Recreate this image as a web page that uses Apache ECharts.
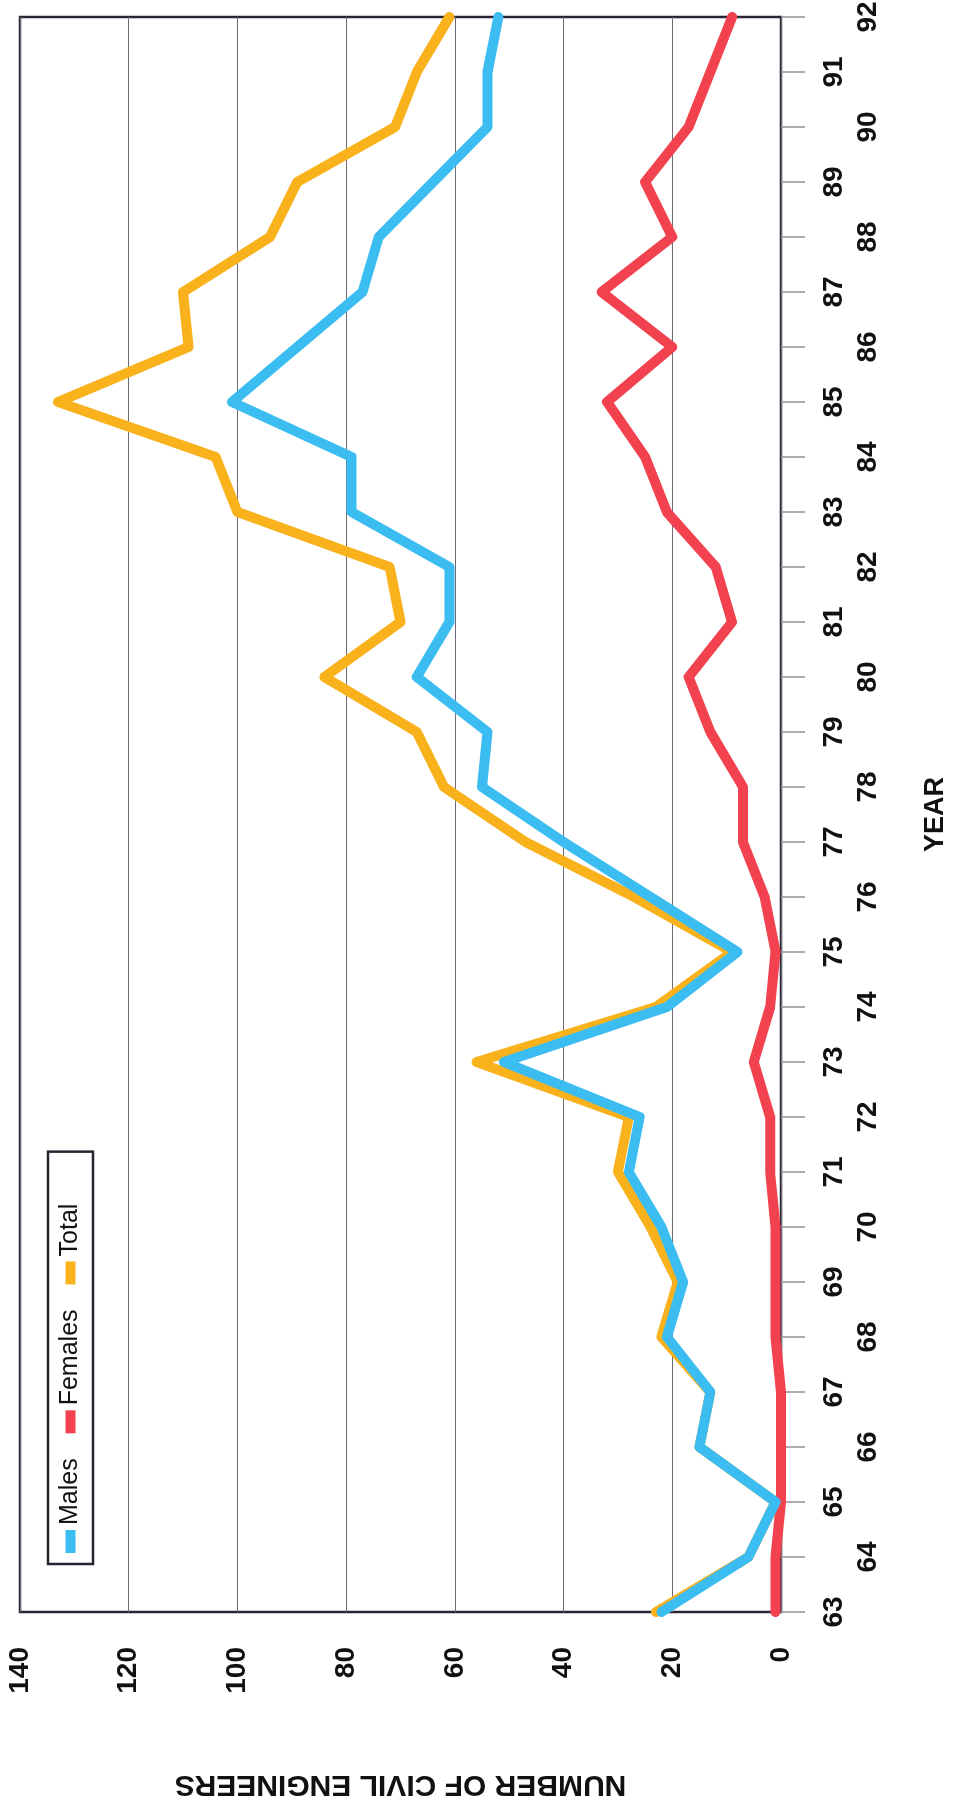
<!DOCTYPE html>
<html>
<head>
<meta charset="utf-8">
<title>Number of Civil Engineers by Year</title>
<script src="https://cdn.jsdelivr.net/npm/echarts@6/dist/echarts.min.js"></script>
<style>
  html, body { margin: 0; padding: 0; background: #ffffff; overflow: hidden; }
  body { width: 953px; height: 1814px; position: relative; }
  /* The chart is laid out landscape and turned a quarter turn counter-clockwise onto the portrait page. */
  #chart {
    position: absolute; left: 0; top: 0;
    width: 1814px; height: 953px;
    transform-origin: 0 0;
    transform: translate(0, 1814px) rotate(-90deg);
    background: #ffffff;
  }
</style>
</head>
<body>
<div id="chart"></div>
<script>
// Graduating year (19xx)
const years = ['63','64','65','66','67','68','69','70','71','72','73','74','75','76','77',
               '78','79','80','81','82','83','84','85','86','87','88','89','90','91','92'];

// Number of civil engineers per year
const males   = [22, 6, 1, 15, 13, 21, 18, 22, 28, 26, 51, 21, 8, 24, 40,
                 55, 54, 67, 61, 61, 79, 79, 101, 89, 77, 74, 64, 54, 54, 52];
const females = [1, 1, 0, 0, 0, 1, 1, 1, 2, 2, 5, 2, 1, 3, 7,
                 7, 13, 17, 9, 12, 21, 25, 32, 20, 33, 20, 25, 17, 13, 9];
const total   = [23, 6, 1, 15, 13, 22, 19, 24, 30, 28, 56, 23, 9, 27, 47,
                 62, 67, 84, 70, 72, 100, 104, 133, 109, 110, 94, 89, 71, 67, 61];

const valueTicks = { min: 0, max: 140, interval: 20 };

const FONT = '"Liberation Sans", Arial, Helvetica, sans-serif';

const chart = echarts.init(document.getElementById('chart'), null, { renderer: 'canvas' });

function lineSeries(name, data, color, z) {
  return {
    name: name,
    type: 'line',
    data: data,
    z: z,
    symbol: 'none',
    smooth: false,
    itemStyle: { color: color },
    lineStyle: { color: color, width: 10, join: 'round', cap: 'round' },
    emphasis: { disabled: true }
  };
}

chart.setOption({
  animation: false,
  backgroundColor: '#ffffff',
  textStyle: { fontFamily: FONT },
  grid: {
    left: 202, right: 17, top: 20, bottom: 172,
    show: true,
    borderColor: '#2b2636',
    borderWidth: 2.5,
    backgroundColor: '#ffffff',
    containLabel: false,
    outerBoundsMode: 'none'
  },
  legend: {
    data: ['Males', 'Females', 'Total'],
    orient: 'horizontal',
    left: 250,
    top: 48,
    icon: 'rect',
    itemWidth: 23,
    itemHeight: 10,
    itemGap: 25,
    padding: [10, 52, 10, 11],
    borderColor: '#2a2230',
    borderWidth: 2.5,
    backgroundColor: '#ffffff',
    textStyle: { fontFamily: FONT, fontSize: 25, color: '#111111', fontWeight: 'normal' },
    selectedMode: false
  },
  xAxis: {
    type: 'category',
    data: years,
    boundaryGap: false,
    name: 'YEAR',
    nameLocation: 'middle',
    nameGap: 141,
    nameTextStyle: { fontFamily: FONT, fontSize: 27, fontWeight: 'bold', color: '#111111' },
    axisLine: { show: false },
    axisTick: {
      show: true, inside: false, length: 24, interval: 0,
      lineStyle: { color: '#9c8f9f', width: 1.5 }
    },
    axisLabel: {
      interval: 0,
      margin: 39,
      color: '#111111',
      formatter: function (value, index) {
        return index % 2 === 0 ? '{near|' + value + '}' : '{far|' + value + '}';
      },
      rich: {
        near: { fontFamily: FONT, fontSize: 28, fontWeight: 'bold', color: '#111111' },
        far:  { fontFamily: FONT, fontSize: 28, fontWeight: 'bold', color: '#111111', padding: [34, 0, 0, 0] }
      }
    },
    splitLine: { show: false }
  },
  yAxis: {
    type: 'value',
    min: valueTicks.min,
    max: valueTicks.max,
    interval: valueTicks.interval,
    name: 'NUMBER OF CIVIL ENGINEERS',
    nameLocation: 'middle',
    nameRotate: 90,
    nameGap: 157,
    nameTextStyle: { fontFamily: FONT, fontSize: 30, fontWeight: 'bold', color: '#111111' },
    axisLine: { show: false },
    axisTick: { show: false },
    axisLabel: {
      margin: 35,
      fontFamily: FONT, fontSize: 28, fontWeight: 'bold', color: '#111111'
    },
    splitLine: { show: true, lineStyle: { color: '#6f6a74', width: 1.2 } }
  },
  series: [
    lineSeries('Males',   males,   '#3bbdf1', 5),
    lineSeries('Females', females, '#f2414f', 4),
    lineSeries('Total',   total,   '#f9b11c', 3)
  ]
});
</script>
</body>
</html>
